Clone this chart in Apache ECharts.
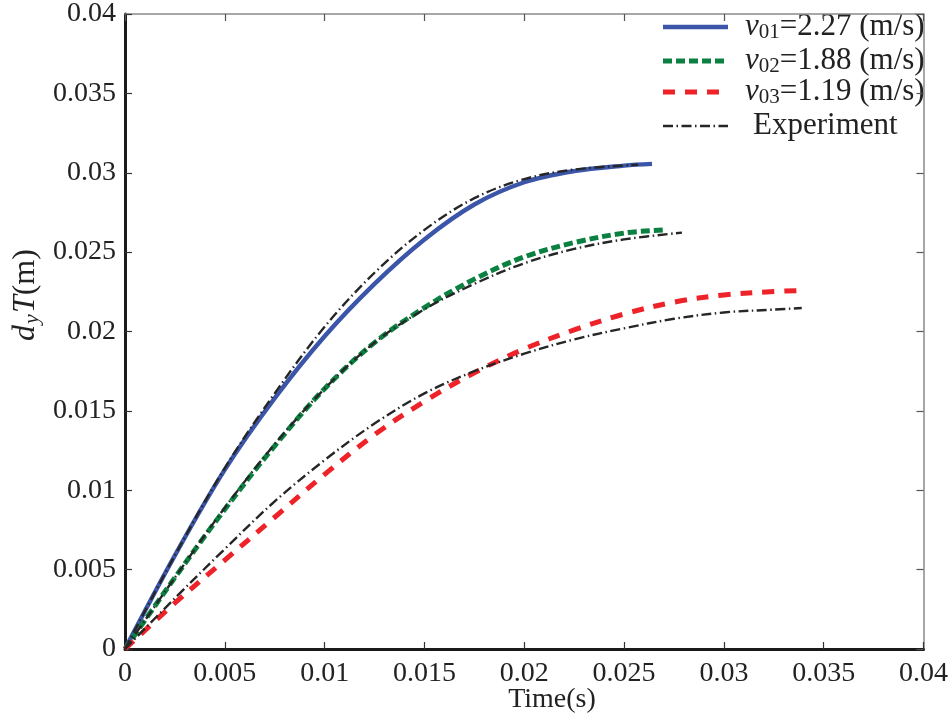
<!DOCTYPE html>
<html>
<head>
<meta charset="utf-8">
<script src="https://cdn.jsdelivr.net/npm/echarts@6/dist/echarts.min.js"></script>
<style>
  html, body { margin: 0; padding: 0; background: #fff; }
  #chart { width: 951px; height: 719px; }
</style>
</head>
<body>
<div id="chart"></div>
<script>
// Time (s) / displacement d_yT (m) samples for each run
const sim1 = [[0,0],[0.0025,0.0059],[0.005,0.0113],[0.0075,0.0158],[0.01,0.0197],[0.0125,0.0230],
  [0.015,0.0258],[0.0175,0.0280],[0.02,0.0294],[0.0225,0.0301],[0.025,0.03045],[0.0264,0.03056]];
const sim2 = [[0,0],[0.0025,0.0045],[0.005,0.0088],[0.0075,0.0128],[0.01,0.0164],[0.0125,0.0193],
  [0.015,0.0215],[0.0175,0.0233],[0.02,0.0247],[0.0225,0.0256],[0.025,0.0262],[0.0270,0.0264]];
const sim3 = [[0,0],[0.0025,0.0029],[0.005,0.0056],[0.0075,0.0083],[0.01,0.0110],[0.0125,0.0135],
  [0.015,0.0156],[0.0175,0.0174],[0.02,0.0189],[0.0225,0.0201],[0.025,0.0211],[0.0275,0.02185],
  [0.03,0.0223],[0.0325,0.02252],[0.0339,0.02258]];
const exp1 = [[0,0],[0.0025,0.0059],[0.005,0.0114],[0.0075,0.0161],[0.01,0.0203],[0.0125,0.0237],
  [0.015,0.0264],[0.0175,0.0284],[0.02,0.0296],[0.0225,0.0302],[0.0257,0.0305]];
const exp2 = [[0,0],[0.0025,0.0045],[0.005,0.0089],[0.0075,0.0129],[0.01,0.0164],[0.0125,0.0193],
  [0.015,0.0214],[0.0175,0.0230],[0.02,0.0243],[0.0225,0.0252],[0.025,0.0258],[0.0279,0.02623]];
const exp3 = [[0,0],[0.0025,0.0032],[0.005,0.0063],[0.0075,0.0093],[0.01,0.0119],[0.0125,0.0142],
  [0.015,0.0161],[0.0175,0.0175],[0.02,0.0186],[0.0225,0.0195],[0.025,0.0202],[0.0275,0.0208],
  [0.03,0.0212],[0.0325,0.02138],[0.0339,0.02148]];

const legendLabels = ['01', '02', '03', 'Experiment'];
const legendSpeeds = ['2.27', '1.88', '1.19'];
const xTickLabels = ['0','0.005','0.01','0.015','0.02','0.025','0.03','0.035','0.04'];
const yTickLabels = ['0','0.005','0.01','0.015','0.02','0.025','0.03','0.035','0.04'];

const STEP = 0.005;
const FONT = 'Liberation Serif';
const INK = '#222';
const tickIdx = v => Math.round(v / STEP);

const styles = [
  { color: '#3b55a8', width: 4.4, dash: null },
  { color: '#0b8040', width: 5, dash: [9, 4] },
  { color: '#ee2229', width: 5, dash: [12, 10] },
  { color: '#262626', width: 2.4, dash: [10, 3.5, 1.5, 3.5] }
];

const chart = echarts.init(document.getElementById('chart'), null, { renderer: 'canvas' });

function lineSeries(name, data, s, z) {
  return {
    name: name, type: 'line', data: data, symbol: 'none', smooth: 0.35,
    lineStyle: { color: s.color, width: s.width, type: s.dash || 'solid' },
    itemStyle: { color: s.color }, z: z
  };
}

const frameAxis = {
  min: 0, max: 0.04, interval: STEP,
  axisLine: { show: true, onZero: false, lineStyle: { color: '#8a8a8a', width: 1.5 } },
  axisTick: { show: true, inside: true, length: 7, lineStyle: { color: '#555', width: 1.2 } },
  axisLabel: { show: false }, splitLine: { show: false }
};

// legend drawn as graphic rows: sample line + label
const rowY = [27, 61, 92, 126];
const legendGraphics = [];
rowY.forEach((y, i) => {
  const s = styles[i];
  legendGraphics.push({
    type: 'line', shape: { x1: 663, y1: y, x2: 728, y2: y },
    style: { stroke: s.color, lineWidth: s.width, lineDash: s.dash || null }
  });
  const text = i < 3
    ? '{v|v}{s|' + legendLabels[i] + '}{t|=' + legendSpeeds[i] + ' (m/s)}'
    : '{t|' + legendLabels[i] + '}';
  legendGraphics.push({
    type: 'text', x: i < 3 ? 745 : 753, y: y,
    style: {
      text: text, align: 'left', verticalAlign: 'middle',
      rich: {
        v: { fontFamily: FONT, fontStyle: 'italic', fontSize: 31, fill: INK, lineHeight: 32, verticalAlign: 'middle' },
        s: { fontFamily: FONT, fontSize: 21, fill: INK, lineHeight: 32, verticalAlign: 'bottom', padding: [12, 0, 0, 0] },
        t: { fontFamily: FONT, fontSize: 31, fill: INK, lineHeight: 32, verticalAlign: 'middle' }
      }
    }
  });
});

chart.setOption({
  animation: false,
  backgroundColor: '#fff',
  grid: { left: 125, right: 17, top: 10, bottom: 70, containLabel: false },
  xAxis: [{
    type: 'value', position: 'bottom', min: 0, max: 0.04, interval: STEP,
    axisLine: { show: true, onZero: false, lineStyle: { color: '#1a1a1a', width: 3 } },
    axisTick: { show: true, inside: true, length: 7, lineStyle: { color: '#333', width: 1.2 } },
    axisLabel: { margin: 11, fontFamily: FONT, fontSize: 28, color: INK,
      formatter: v => xTickLabels[tickIdx(v)] },
    splitLine: { show: false }
  }, Object.assign({ type: 'value', position: 'top' }, frameAxis)],
  yAxis: [{
    type: 'value', position: 'left', min: 0, max: 0.04, interval: STEP,
    axisLine: { show: true, onZero: false, lineStyle: { color: '#1a1a1a', width: 3 } },
    axisTick: { show: true, inside: true, length: 7, lineStyle: { color: '#333', width: 1.2 } },
    axisLabel: { margin: 9, fontFamily: FONT, fontSize: 28, color: INK,
      formatter: v => yTickLabels[tickIdx(v)] },
    splitLine: { show: false }
  }, Object.assign({ type: 'value', position: 'right' }, frameAxis)],
  graphic: legendGraphics.concat([
    {
      type: 'text', x: 552, y: 700,
      style: { text: 'Time(s)', fontFamily: FONT, fontSize: 28, fill: INK, align: 'center', verticalAlign: 'middle' }
    },
    {
      type: 'text', x: 26, y: 295, rotation: Math.PI / 2,
      style: {
        text: '{i|d}{s|y}{i|T}{t|(m)}', align: 'center', verticalAlign: 'middle',
        rich: {
          i: { fontFamily: FONT, fontStyle: 'italic', fontSize: 32, fill: INK, lineHeight: 34, verticalAlign: 'middle' },
          s: { fontFamily: FONT, fontStyle: 'italic', fontSize: 22, fill: INK, lineHeight: 34, verticalAlign: 'bottom', padding: [12, 1, 0, 1] },
          t: { fontFamily: FONT, fontSize: 32, fill: INK, lineHeight: 34, verticalAlign: 'middle' }
        }
      }
    }
  ]),
  series: [
    lineSeries('v01', sim1, styles[0], 3),
    lineSeries('v02', sim2, styles[1], 3),
    lineSeries('v03', sim3, styles[2], 3),
    lineSeries('Experiment', exp1, styles[3], 5),
    lineSeries('Experiment', exp2, styles[3], 5),
    lineSeries('Experiment', exp3, styles[3], 5)
  ]
});
</script>
</body>
</html>
